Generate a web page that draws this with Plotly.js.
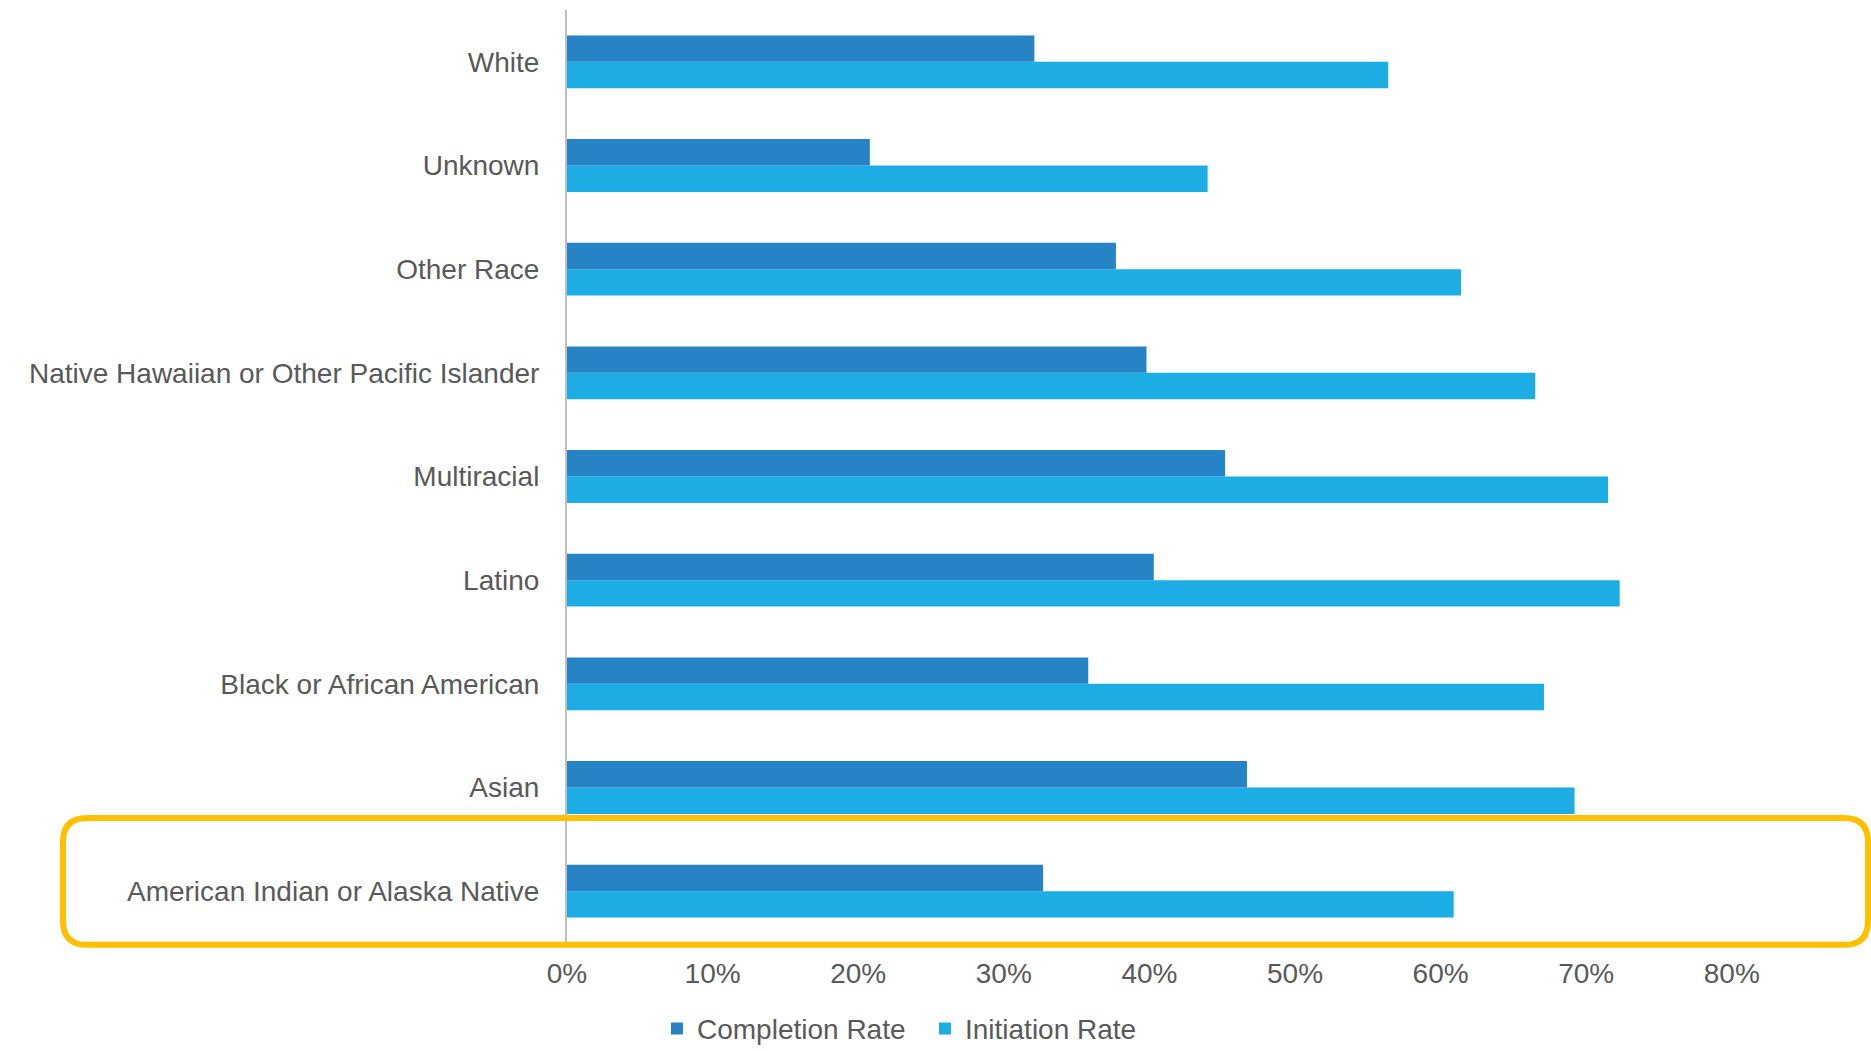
<!DOCTYPE html>
<html>
<head>
<meta charset="utf-8">
<script src="https://cdn.plot.ly/plotly-3.0.1.min.js"></script>
<style>html,body{margin:0;padding:0;background:#fff;}#chart{width:1871px;height:1051px;}</style>
</head>
<body>
<div id="chart"></div>
<script>
const categories = [
  "American Indian or Alaska Native",
  "Asian",
  "Black or African American",
  "Latino",
  "Multiracial",
  "Native Hawaiian or Other Pacific Islander",
  "Other Race",
  "Unknown",
  "White"
];
const completionRate = [0.327, 0.467, 0.358, 0.403, 0.452, 0.398, 0.377, 0.208, 0.321];
const initiationRate = [0.609, 0.692, 0.671, 0.723, 0.715, 0.665, 0.614, 0.440, 0.564];
const xTickVals = [0, 0.1, 0.2, 0.3, 0.4, 0.5, 0.6, 0.7, 0.8];
const xTickText = ["0%", "10%", "20%", "30%", "40%", "50%", "60%", "70%", "80%"];

const FONT = "'Liberation Sans', Arial, sans-serif";
const TXT = "#595959";

const traces = [
  {
    type: "bar", orientation: "h", name: "Initiation Rate",
    y: categories, x: initiationRate,
    marker: {color: "#1CADE4"}, legendrank: 2, hoverinfo: "x+y"
  },
  {
    type: "bar", orientation: "h", name: "Completion Rate",
    y: categories, x: completionRate,
    marker: {color: "#2683C6"}, legendrank: 1, hoverinfo: "x+y"
  }
];

// rounded highlight box (paper coords)
const L = -0.3865, R = 0.9977, T = 0.134, B = -0.002;
const rx = 0.0184, ry = 0.0257;
const boxPath = `M ${L+rx} ${T} L ${R-rx} ${T} Q ${R} ${T} ${R} ${T-ry} L ${R} ${B+ry} Q ${R} ${B} ${R-rx} ${B} L ${L+rx} ${B} Q ${L} ${B} ${L} ${B+ry} L ${L} ${T-ry} Q ${L} ${T} ${L+rx} ${T} Z`;

const layout = {
  width: 1871, height: 1051,
  margin: {l: 567, r: 0, t: 10, b: 108, autoexpand: false},
  paper_bgcolor: "#fff", plot_bgcolor: "#fff",
  barmode: "group", bargap: 0.49, bargroupgap: 0,
  font: {family: FONT, color: TXT, size: 28},
  xaxis: {
    range: [0, 0.8956], tickvals: xTickVals, ticktext: xTickText,
    showgrid: false, zeroline: false, showline: false, ticks: "",
    tickfont: {family: FONT, size: 28, color: TXT},
    ticklabelstandoff: 11, fixedrange: true
  },
  yaxis: {
    type: "category", categoryorder: "array", categoryarray: categories,
    showgrid: false, zeroline: false, showline: true, linecolor: "#BFBFBF", linewidth: 2,
    ticks: "", ticklabelstandoff: 20,
    tickfont: {family: FONT, size: 28, color: TXT}, fixedrange: true
  },
  showlegend: true,
  legend: {
    orientation: "h", x: 0.069, xanchor: "left", y: -0.092, yanchor: "middle",
    font: {family: FONT, size: 28, color: TXT}, itemwidth: 30, tracegroupgap: 0,
    entrywidth: 223, bgcolor: "rgba(0,0,0,0)"
  },
  shapes: [{
    type: "path", xref: "paper", yref: "paper", path: boxPath,
    line: {color: "#FFC000", width: 6}, fillcolor: "rgba(0,0,0,0)", layer: "above"
  }]
};

Plotly.newPlot("chart", traces, layout, {displayModeBar: false, staticPlot: true});
</script>
</body>
</html>
